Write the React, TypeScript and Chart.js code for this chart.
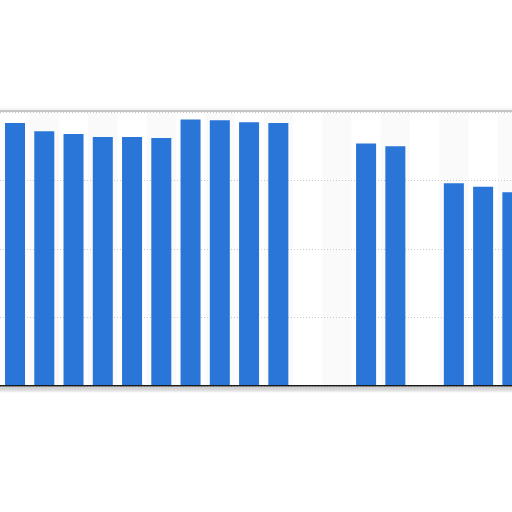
import React, { useRef, useEffect } from 'react';
import { Chart, registerables } from 'chart.js';

Chart.register(...registerables);

// categories are not shown in the crop, so they only index the slots
const categories = [
  'c1', 'c2', 'c3', 'c4', 'c5', 'c6', 'c7', 'c8', 'c9',
  'c10', 'c11', 'c12', 'c13', 'c14', 'c15', 'c16', 'c17', 'c18',
];
const values: (number | null)[] = [
  38.4, 37.2, 36.8, 36.35, 36.35, 36.2, 38.9, 38.8, 38.5,
  38.4, null, null, 35.4, 35.0, null, 29.6, 29.1, 28.3,
];
const yMax = 40;
const yStep = 10;

const BAR_BLUE = '#2a75d8';

// light zebra bands per category plus the framed box edges
const framePlugin = {
  id: 'frame',
  beforeDraw(chart: Chart) {
    const { ctx, chartArea, scales } = chart;
    const x = scales.x;
    const half = (x.getPixelForValue(1) - x.getPixelForValue(0)) / 2;
    ctx.save();
    categories.forEach((_, i) => {
      if (i % 2 === 1) {
        const c = x.getPixelForValue(i);
        ctx.fillStyle = '#fafafa';
        ctx.fillRect(c - half, chartArea.top, half * 2, chartArea.bottom - chartArea.top);
      }
    });
    // top edge of the box
    const g = ctx.createLinearGradient(0, chartArea.top - 6, 0, chartArea.top);
    g.addColorStop(0, 'rgba(0,0,0,0)');
    g.addColorStop(1, 'rgba(0,0,0,0.08)');
    ctx.fillStyle = g;
    ctx.fillRect(0, chartArea.top - 6, chart.width, 4);
    ctx.fillStyle = '#c6c6c6';
    ctx.fillRect(0, chartArea.top - 2, chart.width, 2);
    // shadow under the baseline
    const s = ctx.createLinearGradient(0, chartArea.bottom + 1, 0, chartArea.bottom + 7);
    s.addColorStop(0, 'rgba(0,0,0,0.2)');
    s.addColorStop(0.5, 'rgba(0,0,0,0.14)');
    s.addColorStop(1, 'rgba(0,0,0,0)');
    ctx.fillStyle = s;
    ctx.fillRect(0, chartArea.bottom + 1, chart.width, 6);
    ctx.restore();
  },
};

const App: React.FC = () => {
  const canvasRef = useRef<HTMLCanvasElement | null>(null);

  useEffect(() => {
    if (!canvasRef.current) return;
    const chart = new Chart(canvasRef.current, {
      type: 'bar',
      data: {
        labels: categories,
        datasets: [
          {
            data: values,
            backgroundColor: BAR_BLUE,
            borderWidth: 0,
            categoryPercentage: 1,
            barPercentage: 0.684,
          },
        ],
      },
      options: {
        animation: false,
        responsive: false,
        devicePixelRatio: 1,
        layout: { padding: { top: 112, bottom: 126, left: 0.4, right: 0 } },
        plugins: {
          legend: { display: false },
          tooltip: { enabled: false },
        },
        scales: {
          x: {
            grid: { display: false, drawTicks: false },
            ticks: { display: false },
            border: { display: true, color: '#1a1a1a', width: 1.5, z: 1 },
          },
          y: {
            min: 0,
            max: yMax,
            ticks: { display: false, stepSize: yStep },
            grid: { color: '#c8c8c8', lineWidth: 1, drawTicks: false },
            border: { display: false, dash: [1, 2] },
          },
        },
      },
      plugins: [framePlugin],
    });
    return () => chart.destroy();
  }, []);

  return (
    <div
      style={{
        position: 'fixed',
        left: 0,
        top: 0,
        width: 512,
        height: 512,
        overflow: 'hidden',
        background: '#fff',
      }}
    >
      <canvas ref={canvasRef} width={527} height={512} style={{ width: 527, height: 512 }} />
    </div>
  );
};

export default App;
